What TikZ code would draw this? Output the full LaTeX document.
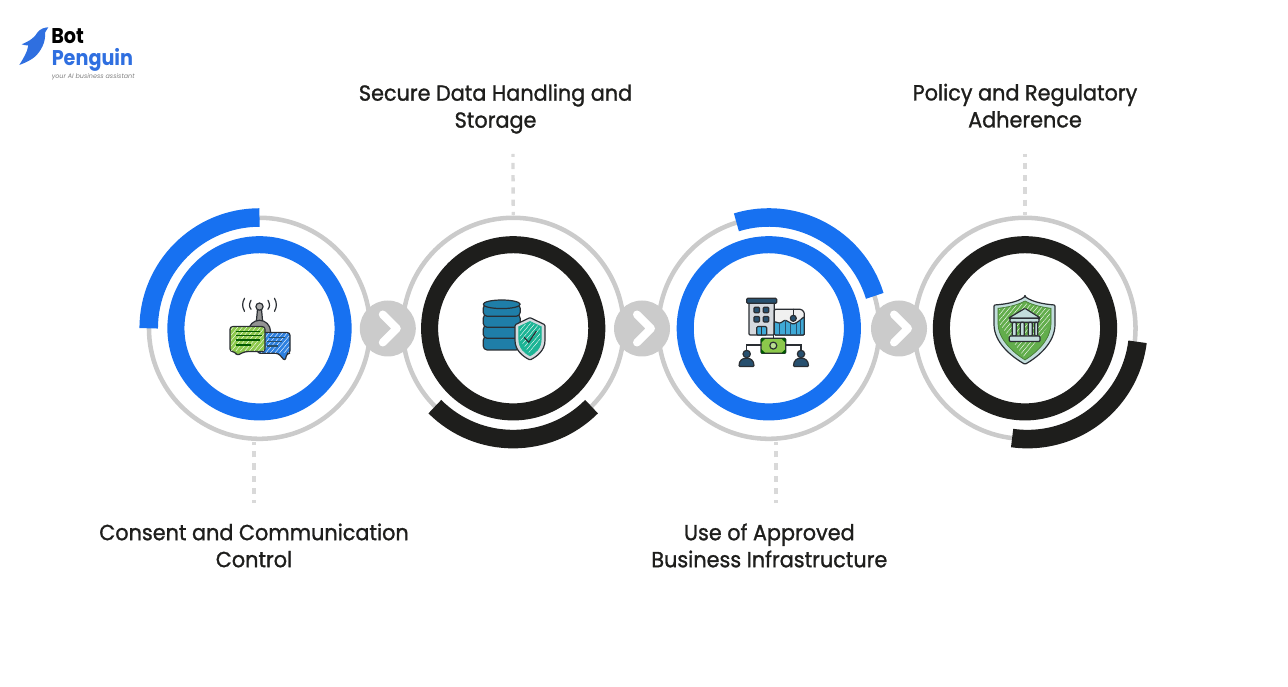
\documentclass[tikz,border=0pt]{standalone}
\usepackage{fontspec}
\setmainfont{Poppins}
\newfontfamily\labelfont[FakeStretch=0.95,FakeBold=1.2]{Poppins}
\newfontfamily\logofont[FakeStretch=0.9]{Poppins Bold}
\usetikzlibrary{calc,positioning,patterns.meta}

\definecolor{ringblue}{HTML}{1771F1}
\definecolor{ringblack}{HTML}{1E1E1C}
\definecolor{ringgray}{HTML}{CBCBCB}
\definecolor{dashgray}{HTML}{D9D9D9}
\definecolor{logoblue}{HTML}{2F6FE0}
\definecolor{ink}{HTML}{2A2E33}
\definecolor{leaf}{HTML}{8CC84B}
\definecolor{sky}{HTML}{2D80E0}
\definecolor{petrol}{HTML}{1F7EA8}
\definecolor{teal}{HTML}{1CB495}
\definecolor{steel}{HTML}{D5D9DE}
\definecolor{navy}{HTML}{27506F}
\definecolor{pale}{HTML}{C3DEDD}
\definecolor{forest}{HTML}{62AD4C}
\definecolor{bars}{HTML}{3FA9D6}

\tikzset{
  outerring/.style={circle,draw=ringgray,line width=3.4pt,minimum size=165.8pt,inner sep=0pt,outer sep=0pt},
  bluering/.style={circle,draw=ringblue,line width=12.8pt,minimum size=125.4pt,inner sep=0pt,outer sep=0pt},
  blackring/.style={circle,draw=ringblack,line width=12.8pt,minimum size=125.4pt,inner sep=0pt,outer sep=0pt},
  bluearc/.style={draw=ringblue,line width=13.9pt},
  blackarc/.style={draw=ringblack,line width=13.9pt},
  arrowdisc/.style={circle,fill=ringgray,minimum size=42pt,inner sep=0pt,outer sep=0pt},
  chevron/.style={draw=white,line width=6pt,line cap=round,line join=round},
  dashline/.style={draw=dashgray,line width=2.5pt,dash pattern=on 4.7pt off 4.5pt,dash phase=2.5pt,shorten >=2pt},
  steplabel/.style={font=\labelfont\fontsize{16.4}{20.25}\selectfont,text=ringblack,align=center,inner sep=0pt},
  sketch/.style={draw=ink,line width=0.9pt,line join=round,rounded corners=0.8pt},
  hatch/.style={pattern={Lines[angle=50,distance=2.6pt,line width=0.3pt]},pattern color=white},
  inkline/.style={draw=ink,line width=0.9pt,line cap=round}
}

\begin{document}
\begin{tikzpicture}[x=0.75pt,y=0.75pt]
\useasboundingbox (0,0) rectangle (1288,686);

% rings
\node(ring1) [outerring] at (259.5,357.7) {};
\node(ring2) [outerring] at (513.2,357.7) {};
\node(ring3) [outerring] at (768.8,357.7) {};
\node(ring4) [outerring] at (1025,357.7) {};

\node(core1) [bluering] at (ring1) {};
\node(core2) [blackring] at (ring2) {};
\node(core3) [bluering] at (ring3) {};
\node(core4) [blackring] at (ring4) {};

\draw[bluearc] ([shift={(90:110.8)}]ring1.center) arc (90:180:110.8);
\draw[blackarc] ([shift={(225:110.8)}]ring2.center) arc (225:315:110.8);
\draw[bluearc] ([shift={(17:110.8)}]ring3.center) arc (17:107:110.8);
\draw[blackarc] ([shift={(-98:110.8)},xshift=1.9pt]ring4.center) arc (-98:-7:110.8);

% arrows between the rings
\node(arrow1) [arrowdisc] at (387.8,357.5) {};
\node(arrow2) [arrowdisc] at (642,357.5) {};
\node(arrow3) [arrowdisc] at (899,357.5) {};
\draw[chevron] ([shift={(-5,14)}]arrow1.center) -- ++(14,-14) -- ++(-14,-14);
\draw[chevron] ([shift={(-5,14)}]arrow2.center) -- ++(14,-14) -- ++(-14,-14);
\draw[chevron] ([shift={(-5,14)}]arrow3.center) -- ++(14,-14) -- ++(-14,-14);

% dashes and labels
\coordinate(top2) at (513,532);
\coordinate(top4) at (1025,532);
\coordinate(bot1) at (254,183);
\coordinate(bot3) at (776,183);

\draw[dashline] (top2) -- (ring2.north);
\draw[dashline] (top4) -- (ring4.north);
\draw[dashline] (bot1) -- (bot1 |- ring1.south);
\draw[dashline] (bot3) -- (bot3 |- ring3.south);

\node(label1) [steplabel,below=15.2pt of bot1] {Consent and Communication\\Control};
\node(label2) [steplabel,above=15.1pt of top2,xshift=-13.1pt] {Secure Data Handling and\\Storage};
\node(label3) [steplabel,below=15.2pt of bot3,xshift=-5pt] {Use of Approved\\Business Infrastructure};
\node(label4) [steplabel,above=19.6pt of top4] {Policy and Regulatory\\Adherence};

% icon 1
\begin{scope}[shift={(ring1.center)}]
\draw[inkline] (-15,30) .. controls (-17.5,25) and (-17.5,22) .. (-15,17);
\draw[inkline] (-8.5,28) .. controls (-10.5,24) and (-10.5,22) .. (-8.5,19);
\draw[inkline] (15,30) .. controls (17.5,25) and (17.5,22) .. (15,17);
\draw[inkline] (8.5,28) .. controls (10.5,24) and (10.5,22) .. (8.5,19);
\draw[sketch,fill=gray!85] (-2,19) -- (2,19) -- (3.5,3) -- (-3.5,3) -- cycle;
\draw[sketch,fill=gray!85] (0,-3) circle (11);
\draw[sketch,fill=gray!65] (0,21.7) circle (3.6);
\draw[sketch,fill=sky,rounded corners=2pt] (-2,-4.3) -- (30.5,-4.3) -- (30.5,-25) -- (27.5,-25) -- (25.5,-32.7) -- (18.8,-25) -- (-2,-25) -- cycle;
\fill[hatch] (-1,-5.3) rectangle (29.5,-24);
\draw[sketch,fill=leaf,rounded corners=2pt] (-29.5,1.7) -- (5.5,1.7) -- (5.5,-23.3) -- (-14.5,-23.3) -- (-22.8,-27.3) -- (-24.5,-23.3) -- (-29.5,-23.3) -- cycle;
\fill[hatch] (-28.5,0.7) rectangle (4.5,-22.3);
\draw[draw=green!35!black,line width=0.8pt] (-23.5,-3.3) -- (0.5,-3.3);
\draw[draw=green!35!black,line width=0.8pt] (-23.5,-7.3) -- (2,-7.3);
\draw[draw=green!35!black,line width=0.8pt] (-23.5,-11.7) -- (0.5,-11.7);
\draw[draw=green!35!black,line width=0.8pt] (-23.5,-16.7) -- (-9,-16.7);
\draw[draw=navy,line width=0.8pt] (9,-9) -- (25,-9);
\draw[draw=navy,line width=0.8pt] (7,-13.3) -- (22,-13.3);
\draw[draw=navy,line width=0.8pt] (7,-17.7) -- (18,-17.7);
\end{scope}

% icon 2
\begin{scope}[shift={(ring2.center)}]
\draw[sketch,fill=petrol,rounded corners=3pt] (-30,-21.7) rectangle (7,-8);
\draw[sketch,fill=petrol,rounded corners=3pt] (-30,-10) rectangle (7,3);
\draw[sketch,fill=petrol,rounded corners=3pt] (-30,1) rectangle (7,14);
\draw[sketch,fill=petrol,rounded corners=3pt] (-30,12) rectangle (7,24);
\draw[sketch,fill=petrol] (-11.5,24) ellipse (18.5 and 4.3);
\draw[sketch,fill=steel] (16.8,10.7) -- (31.8,3.5) -- (31.8,-11) .. controls (31.8,-22) and (24,-28) .. (16.8,-31.7) .. controls (9.6,-28) and (1.8,-22) .. (1.8,-11) -- (1.8,3.5) -- cycle;
\draw[draw=teal,fill=teal,line width=0.5pt] (16.8,6.8) -- (28,1.6) -- (28,-11) .. controls (28,-20) and (22,-25) .. (16.8,-27.6) .. controls (11.6,-25) and (5.6,-20) .. (5.6,-11) -- (5.6,1.6) -- cycle;
\fill[hatch] (16.8,6) -- (27,1.6) -- (27,-11) -- (16.8,-26) -- (6.6,-11) -- (6.6,1.6) -- cycle;
\draw[inkline] (11,-9) -- (15.5,-14) -- (23,-3);
\end{scope}

% icon 3
\begin{scope}[shift={(ring3.center)}]
\draw[sketch,fill=steel] (-19.8,26) rectangle (5.5,-6.7);
\draw[sketch,fill=navy] (-22.1,30) rectangle (7.9,25);
\draw[sketch,fill=navy] (-14.9,21.1) rectangle (-9.3,15.5);
\draw[sketch,fill=navy] (-5.6,21.1) rectangle (0,15.5);
\draw[sketch,fill=navy] (-14.9,11.8) rectangle (-9.3,6.2);
\draw[sketch,fill=navy] (-5.6,11.8) rectangle (0,6.2);
\draw[sketch,fill=bars] (-12.1,1.7) rectangle (-2.1,-6.7);
\draw[inkline,line width=0.5pt] (-7.1,1.7) -- (-7.1,-6.7);
\draw[sketch,fill=gray!12] (5.5,19) -- (32.5,19) -- (35.5,16) -- (35.5,-6.7) -- (5.5,-6.7) -- cycle;
\draw[sketch,fill=bars] (5.5,6.7) -- (11.2,5) -- (16.2,8.3) -- (24.5,4) -- (29.5,6.7) -- (35.5,11.7) -- (35.5,-6.7) -- (5.5,-6.7) -- cycle;
\draw[draw=navy,line width=0.5pt] (11,5) -- (11,-6.7);
\draw[draw=navy,line width=0.5pt] (16.5,8) -- (16.5,-6.7);
\draw[draw=navy,line width=0.5pt] (22,5) -- (22,-6.7);
\draw[draw=navy,line width=0.5pt] (27.5,5.5) -- (27.5,-6.7);
\draw[draw=navy,line width=0.5pt] (32,9) -- (32,-6.7);
\draw[inkline] (24.5,19) -- (24.5,13);
\draw[sketch,fill=navy] (24.5,10) circle (3);
\draw[inkline] (4.5,-6.7) -- (4.5,-10);
\draw[sketch,fill=leaf] (-7.8,-10) rectangle (16.9,-25);
\fill[green!35!black] (-7.8,-10) -- (-3.3,-10) -- (-7.8,-14.5) -- cycle;
\fill[green!35!black] (16.9,-10) -- (12.4,-10) -- (16.9,-14.5) -- cycle;
\fill[green!35!black] (-7.8,-25) -- (-3.3,-25) -- (-7.8,-20.5) -- cycle;
\fill[green!35!black] (16.9,-25) -- (12.4,-25) -- (16.9,-20.5) -- cycle;
\draw[sketch,fill=white!40!leaf] (4.5,-17.3) circle (3.5);
\draw[inkline] (-7.8,-16.7) -- (-22.1,-16.7) -- (-22.1,-22);
\draw[inkline] (16.9,-16.7) -- (32.2,-16.7) -- (32.2,-22);
\draw[sketch,fill=navy] (-22.1,-25.7) circle (3.7);
\draw[sketch,fill=navy] (-29.8,-38.3) .. controls (-29.8,-32) and (-26,-30) .. (-22.3,-30) .. controls (-18.6,-30) and (-14.8,-32) .. (-14.8,-38.3) -- cycle;
\draw[sketch,fill=navy] (32.2,-25.7) circle (3.7);
\draw[sketch,fill=navy] (24.7,-38.3) .. controls (24.7,-32) and (28.5,-30) .. (32.2,-30) .. controls (35.9,-30) and (39.7,-32) .. (39.7,-38.3) -- cycle;
\end{scope}

% icon 4
\begin{scope}[shift={(ring4.center)}]
\draw[sketch,fill=pale] (0,31.7) .. controls (8,26) and (20,24) .. (30,23.3) -- (30,5) .. controls (30,-14) and (14,-28) .. (0,-36) .. controls (-14,-28) and (-31,-14) .. (-31,5) -- (-31,23.3) .. controls (-20,24) and (-8,26) .. (0,31.7) -- cycle;
\draw[draw=forest!70!black,fill=forest,line width=0.5pt] (0,27.3) .. controls (8,23) and (18,21) .. (26,20) -- (26,5) .. controls (26,-11) and (12,-24) .. (0,-31.7) .. controls (-12,-24) and (-27,-11) .. (-27,5) -- (-27,20) .. controls (-18,21) and (-8,23) .. (0,27.3) -- cycle;
\fill[hatch] (0,25) -- (25,19) -- (25,5) -- (0,-30) -- (-26,5) -- (-26,19) -- cycle;
\draw[sketch,fill=pale] (0,20) -- (15.7,10) -- (-16.7,10) -- cycle;
\draw[sketch,fill=pale] (-15,10) rectangle (14,6);
\draw[sketch,fill=pale] (-12.7,6) rectangle (-8.7,-7.7);
\draw[sketch,fill=pale] (-4.7,6) rectangle (-0.7,-7.7);
\draw[sketch,fill=pale] (3.3,6) rectangle (7.3,-7.7);
\draw[sketch,fill=pale] (9.7,6) rectangle (12.7,-7.7);
\draw[sketch,fill=pale] (-15.7,-7.7) rectangle (15,-13.3);
\end{scope}

% logo
\begin{scope}[shift={(0,676)}]
\fill[logoblue] (48.3,-17.3) .. controls (44,-17.5) and (40,-19) .. (37.3,-22.7) .. controls (35,-27) and (30,-31) .. (21.7,-34.3) .. controls (24,-35) and (26,-35.5) .. (28.3,-35.5) .. controls (27.5,-42) and (23,-49) .. (19.3,-55) .. controls (26,-52.5) and (31,-50) .. (35,-46.7) .. controls (41,-41) and (46,-32) .. (45,-22.7) -- cycle;
\end{scope}
\node(botword) [anchor=base west,inner sep=0pt,font=\logofont\fontsize{16}{16}\selectfont,text=black] at (51,642.7) {Bot};
\node(penguinword) [anchor=base west,inner sep=0pt,font=\logofont\fontsize{16}{16}\selectfont,text=logoblue] at (51.5,620.3) {Penguin};
\node(tagline) [anchor=base west,inner sep=0pt,font=\fontsize{4.8}{5}\selectfont\itshape,text=gray] at (51.5,607.7) {your AI business assistant};

\end{tikzpicture}
\end{document}
